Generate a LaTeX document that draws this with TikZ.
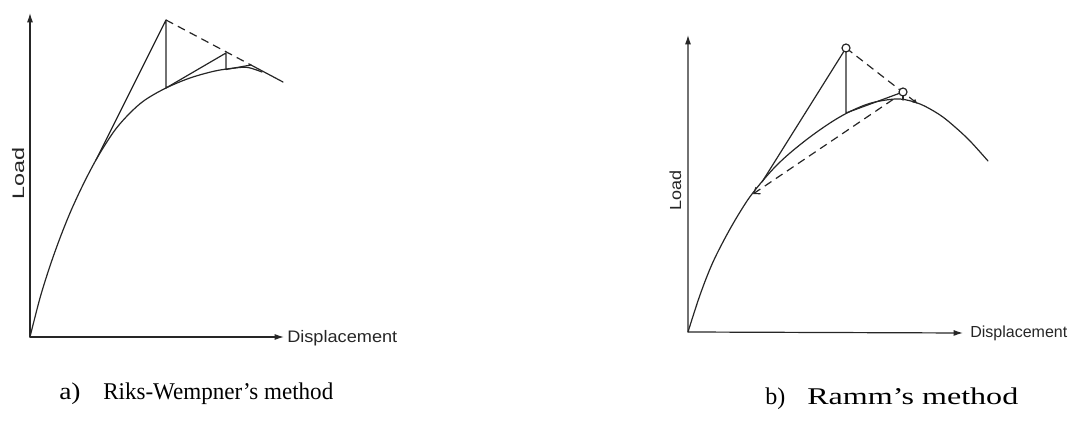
\documentclass[tikz,border=0pt]{standalone}
\usepackage{graphicx}
\usepackage{fontspec}
\setmainfont{Liberation Serif}
\newfontfamily\labelfont{Liberation Sans}
\usetikzlibrary{arrows.meta}

\begin{document}
\begin{tikzpicture}[x=0.75pt,y=-0.75pt,
  ln/.style={line width=0.9pt, draw=black!85, line cap=round, line join=round},
  dsh/.style={ln, line cap=butt, dash pattern=on 6pt off 4pt},
  axistips/.style={ln, {Latex[length=7pt,width=4.5pt]}-{Latex[length=7pt,width=4.5pt]}},
  lbl/.style={inner sep=0pt, text=black!85, font=\labelfont},
  capt/.style={inner sep=0pt, anchor=base west, text=black},
  ring/.style={ln, fill=white},
]
\useasboundingbox (0,0) rectangle (1077,423);

% ---------------- left panel ----------------
\coordinate (O1) at (30,337);
\coordinate (Y1) at (30,13);
\coordinate (X1) at (284,337);
\draw[axistips] (Y1) -- (O1) -- (X1);
\node[lbl, anchor=base west] (disp1) at (287,343)
  {\resizebox{82.5pt}{\height}{\fontsize{12.5}{14}\selectfont Displacement}};
\node[lbl, anchor=base west, rotate=90] (load1) at (24,200)
  {\resizebox{39pt}{\height}{\fontsize{12.5}{14}\selectfont Load}};

\draw[ln] plot[smooth, tension=0.55] coordinates {(30,337) (40,298) (50,266) (60,238)
  (70,213) (80,191) (90,171) (100,153) (115,130) (130,113) (145,100)
  (166,88) (190,78) (215,71) (235,68) (248,67.5) (262,72)};

\coordinate (A1) at (96,160);
\coordinate (P1) at (166,20);
\coordinate (B1) at (166,88);
\coordinate (P2) at (226,53);
\coordinate (B2) at (226,69.5);
\coordinate (P3) at (251,65);
\coordinate (D1) at (250,64.5);
\coordinate (E1) at (283,82);
\draw[ln] (A1) -- (P1) -- (B1) -- (P2) -- (B2) -- (P3);
\draw[dsh] (P1) -- (D1);
\draw[ln] (D1) -- (E1);

\node[capt] (capa1) at (59,400)
  {\resizebox{16pt}{\height}{\fontsize{18}{21}\selectfont a)}};
\node[capt] (capa2) at (103,400)
  {\resizebox{172.5pt}{\height}{\fontsize{18}{21}\selectfont Riks-Wempner’s method}};

% ---------------- right panel ----------------
\coordinate (O2) at (688,332);
\coordinate (Y2) at (688,35);
\coordinate (X2) at (963,333);
\draw[axistips] (Y2) -- (O2) -- (X2);
\node[lbl, anchor=base west] (disp2) at (970,338)
  {\resizebox{72.75pt}{\height}{\fontsize{12}{14}\selectfont Displacement}};
\node[lbl, anchor=base west, rotate=90] (load2) at (681,211)
  {\resizebox{30pt}{\height}{\fontsize{12}{14}\selectfont Load}};

\draw[ln] plot[smooth, tension=0.55] coordinates {(688,332) (700,295) (713,262) (730,229)
  (747,201) (760,184) (775,167) (790,153) (810,137) (830,123) (847,113) (865,105)
  (880,101) (900,99) (920,104) (940,115) (955,127) (970,141) (988,161)};

\coordinate (A2) at (762,182);
\coordinate (C1) at (846,48);
\coordinate (B3) at (846,113);
\coordinate (C2) at (903,92);
\coordinate (B4) at (903,100);
\coordinate (E2) at (918,104);
\coordinate (S1) at (893,99.5);
\coordinate (S2) at (753,194);
\draw[ln] (A2) -- (C1) -- (B3) -- (C2);
\draw[ln] (C2) -- (B4);
\draw[dsh, -{Latex[length=4pt,width=3.5pt]}] (C1) -- (E2);
\draw[dsh, -{Straight Barb[length=4pt,width=6pt]}] (S1) -- (S2);
\draw[ring] (C1) circle[radius=4];
\draw[ring] (C2) circle[radius=4];

\node[capt] (capb1) at (765,405)
  {\resizebox{15pt}{\height}{\fontsize{18}{21}\selectfont b)}};
\node[capt] (capb2) at (807,405)
  {\resizebox{158.25pt}{\height}{\fontsize{18}{21}\selectfont Ramm’s method}};
\end{tikzpicture}
\end{document}
